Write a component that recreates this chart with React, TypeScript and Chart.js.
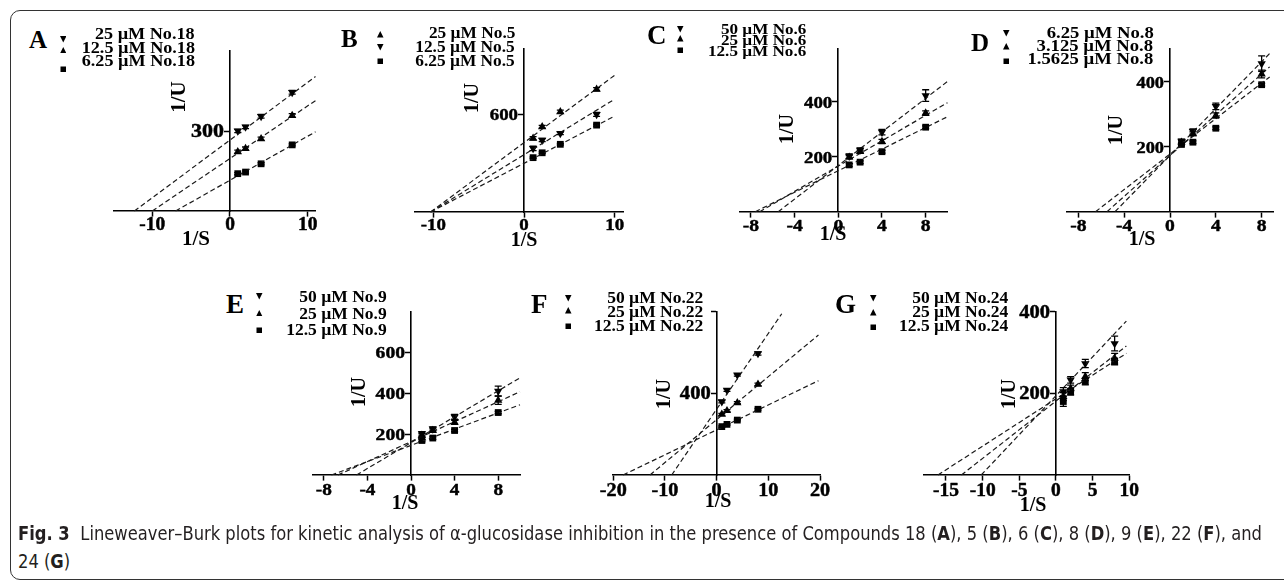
import React, { useEffect, useLayoutEffect, useRef, useState } from 'react';
import { Chart, registerables } from 'chart.js';

Chart.register(...registerables);

// ---------- data ----------
const S_VALUES = [1, 2, 4, 8]; // 1/S

// Panel A – compound 18
const A_LEGEND = ['25 µM No.18', '12.5 µM No.18', '6.25 µM No.18'];
const A_HIGH = [300, 315, 355, 445];
const A_MID = [222, 234, 271, 358];
const A_LOW = [140, 146, 177, 248];
const A_HIGH_ERR = [6, 6, 7, 7];
const A_MID_ERR = [6, 6, 6, 7];
const A_LOW_ERR = [4, 4, 4, 4];
const A_HIGH_FIT = [[-12.3, 0], [11, 504]];
const A_MID_FIT = [[-10, 0], [11, 414]];
const A_LOW_FIT = [[-7, 0], [11, 297]];
const A_X_RANGE = [-15, 11];
const A_Y_MAX = 600;
const A_X_TICKS = [-10, 0, 10];
const A_Y_TICKS = [300];
const A_Y_TICK_LABELS = ['300'];

// Panel B – compound 5
const B_LEGEND = ['25 µM No.5', '12.5 µM No.5', '6.25 µM No.5'];
const B_HIGH = [453, 524, 616, 754];
const B_MID = [391, 442, 483, 600];
const B_LOW = [334, 364, 416, 534];
const B_HIGH_ERR = [10, 8, 10, 10];
const B_MID_ERR = [14, 10, 8, 12];
const B_LOW_ERR = [5, 5, 5, 6];
const B_HIGH_FIT = [[-10.3, 0], [10, 841]];
const B_MID_FIT = [[-10.3, 0], [10, 694]];
const B_LOW_FIT = [[-10.3, 0], [10, 590]];
const B_X_RANGE = [-12, 11];
const B_Y_MAX = 1000;
const B_X_TICKS = [-10, 0, 10];
const B_Y_TICKS = [600];
const B_Y_TICK_LABELS = ['600'];

// Panel C – compound 6
const C_LEGEND = ['50 µM No.6', '25 µM No.6', '12.5 µM No.6'];
const C_HIGH = [202, 224, 289, 422];
const C_MID = [198, 218, 255, 358];
const C_LOW = [170, 180, 218, 307];
const C_HIGH_ERR = [8, 8, 10, 21];
const C_MID_ERR = [6, 6, 8, 8];
const C_LOW_ERR = [5, 5, 5, 5];
const C_HIGH_FIT = [[-5.5, 0], [10, 473]];
const C_MID_FIT = [[-7.2, 0], [10, 396]];
const C_LOW_FIT = [[-7.6, 0], [10, 345]];
const C_X_RANGE = [-9, 10];
const C_Y_MAX = 590;
const C_X_TICKS = [-8, -4, 0, 4, 8];
const C_Y_TICKS = [200, 400];
const C_Y_TICK_LABELS = ['200', '400'];

// Panel D – compound 8
const D_LEGEND = ['6.25 µM No.8', '3.125 µM No.8', '1.5625 µM No.8'];
const D_HIGH = [217, 247, 324, 456];
const D_MID = [214, 240, 296, 424];
const D_LOW = [207, 214, 257, 391];
const D_HIGH_ERR = [6, 8, 10, 24];
const D_MID_ERR = [6, 6, 8, 12];
const D_LOW_ERR = [4, 4, 4, 4];
const D_HIGH_FIT = [[-4.8, 0], [8.7, 487]];
const D_MID_FIT = [[-5.5, 0], [8.7, 446]];
const D_LOW_FIT = [[-6.5, 0], [8.7, 415]];
const D_X_RANGE = [-9, 9];
const D_Y_MAX = 500;
const D_X_TICKS = [-8, -4, 0, 4, 8];
const D_Y_TICKS = [200, 400];
const D_Y_TICK_LABELS = ['200', '400'];

// Panel E – compound 9
const E_LEGEND = ['50 µM No.9', '25 µM No.9', '12.5 µM No.9'];
const E_HIGH = [202, 226, 285, 411];
const E_MID = [194, 218, 258, 366];
const E_LOW = [169, 181, 218, 306];
const E_HIGH_ERR = [10, 10, 12, 24];
const E_MID_ERR = [8, 8, 10, 20];
const E_LOW_ERR = [6, 6, 6, 6];
const E_HIGH_FIT = [[-5.0, 0], [10, 476]];
const E_MID_FIT = [[-6.7, 0], [10, 408]];
const E_LOW_FIT = [[-7.3, 0], [10, 344]];
const E_X_RANGE = [-9, 10];
const E_Y_MAX = 800;
const E_X_TICKS = [-8, -4, 0, 4, 8];
const E_Y_TICKS = [200, 400, 600];
const E_Y_TICK_LABELS = ['200', '400', '600'];

// Panel F – compound 22
const F_LEGEND = ['50 µM No.22', '25 µM No.22', '12.5 µM No.22'];
const F_HIGH = [359, 416, 490, 595];
const F_MID = [297, 315, 354, 444];
const F_LOW = [237, 248, 269, 322];
const F_HIGH_ERR = [6, 6, 6, 8];
const F_MID_ERR = [5, 5, 5, 6];
const F_LOW_ERR = [4, 4, 4, 4];
const F_HIGH_FIT = [[-8.7, 0], [12.6, 790]];
const F_MID_FIT = [[-12.9, 0], [19.7, 686]];
const F_LOW_FIT = [[-18.1, 0], [19.7, 462]];
const F_X_RANGE = [-20, 20];
const F_Y_MAX = 800;
const F_X_TICKS = [-20, -10, 0, 10, 20];
const F_Y_TICKS = [400, 800];
const F_Y_TICK_LABELS = ['400', ''];

// Panel G – compound 24
const G_LEGEND = ['50 µM No.24', '25 µM No.24', '12.5 µM No.24'];
const G_HIGH = [204, 233, 273, 322];
const G_MID = [192, 212, 241, 286];
const G_LOW = [180, 204, 229, 278];
const G_HIGH_ERR = [10, 8, 10, 18];
const G_MID_ERR = [10, 8, 10, 12];
const G_LOW_ERR = [12, 8, 8, 8];
const G_HIGH_FIT = [[-10.2, 0], [9.6, 377]];
const G_MID_FIT = [[-12.9, 0], [9.6, 316]];
const G_LOW_FIT = [[-16.1, 0], [9.6, 298]];
const G_X_RANGE = [-18, 10];
const G_Y_MAX = 400;
const G_X_TICKS = [-15, -10, -5, 0, 5, 10];
const G_Y_TICKS = [200, 400];
const G_Y_TICK_LABELS = ['200', '400'];

const X_TITLE = '1/S';
const Y_TITLE = '1/U';

// ---------- layout (positions only) ----------
type Kind = 'down' | 'up' | 'square';

const SERIF = "'Liberation Serif', 'Times New Roman', serif";

function mk(letter: string, legend: string[], kinds: Kind[], vals: number[][], errs: number[][], fits: number[][][],
  xRange: number[], yMax: number, xTicks: number[], yTicks: number[], yLabels: string[], lay: any) {
  return {
    letter, xRange, yMax, xTicks, yTicks, yLabels, lay,
    series: legend.map((label, i) => ({ label, kind: kinds[i], values: vals[i], errors: errs[i], fit: fits[i] })),
  };
}

const DUM: Kind[] = ['down', 'up', 'square'];
const UDM: Kind[] = ['up', 'down', 'square'];

const PANELS = [
  mk('A', A_LEGEND, DUM, [A_HIGH, A_MID, A_LOW], [A_HIGH_ERR, A_MID_ERR, A_LOW_ERR], [A_HIGH_FIT, A_MID_FIT, A_LOW_FIT],
    A_X_RANGE, A_Y_MAX, A_X_TICKS, A_Y_TICKS, A_Y_TICK_LABELS,
    { area: { l: 113.4, r: 315.5, t: 51, b: 211 }, tick: { fs: 18, xSx: 1.08, ySx: 1.22, xc: 12.5 },
      letter: { x: 29, base: 47.5, fs: 25 },
      legend: { right: 195, bases: [40.3, 54, 67.3], fs: 16.5, sx: 1.1, mx: 63, mys: [39.5, 50, 69.5] },
      yTitle: { x: 178, y: 97 }, xTitle: { x: 196, y: 238 }, titleFs: 21 }),
  mk('B', B_LEGEND, UDM, [B_HIGH, B_MID, B_LOW], [B_HIGH_ERR, B_MID_ERR, B_LOW_ERR], [B_HIGH_FIT, B_MID_FIT, B_LOW_FIT],
    B_X_RANGE, B_Y_MAX, B_X_TICKS, B_Y_TICKS, B_Y_TICK_LABELS,
    { area: { l: 415.2, r: 623.8, t: 49.3, b: 212 }, tick: { fs: 17.5, xSx: 1.08, ySx: 1.08, xc: 12.5 },
      letter: { x: 341, base: 47, fs: 25 },
      legend: { right: 515, bases: [39.3, 52.7, 66.7], fs: 16.5, sx: 1.05, mx: 380.7, mys: [34.3, 47.7, 61.7] },
      yTitle: { x: 471, y: 98 }, xTitle: { x: 524, y: 239 }, titleFs: 20 }),
  mk('C', C_LEGEND, DUM, [C_HIGH, C_MID, C_LOW], [C_HIGH_ERR, C_MID_ERR, C_LOW_ERR], [C_HIGH_FIT, C_MID_FIT, C_LOW_FIT],
    C_X_RANGE, C_Y_MAX, C_X_TICKS, C_Y_TICKS, C_Y_TICK_LABELS,
    { area: { l: 740, r: 947.5, t: 49.3, b: 211.7 }, tick: { fs: 17.5, xSx: 1.12, ySx: 1.08, xc: 13 },
      letter: { x: 647, base: 45, fs: 27 },
      legend: { right: 806.7, bases: [34, 45, 55.7], fs: 14.5, sx: 1.18, mx: 680.7, mys: [29.3, 38.3, 50] },
      yTitle: { x: 786, y: 129 }, xTitle: { x: 833, y: 233 }, titleFs: 20 }),
  mk('D', D_LEGEND, DUM, [D_HIGH, D_MID, D_LOW], [D_HIGH_ERR, D_MID_ERR, D_LOW_ERR], [D_HIGH_FIT, D_MID_FIT, D_LOW_FIT],
    D_X_RANGE, D_Y_MAX, D_X_TICKS, D_Y_TICKS, D_Y_TICK_LABELS,
    { area: { l: 1066.9, r: 1273.1, t: 49.3, b: 211.7 }, tick: { fs: 17.5, xSx: 1.12, ySx: 1.05, xc: 13 },
      letter: { x: 971, base: 51, fs: 25 },
      legend: { right: 1153.3, bases: [39, 51.5, 65], fs: 16.5, sx: 1.13, mx: 1006.7, mys: [33.5, 46.7, 61.7] },
      yTitle: { x: 1115, y: 130 }, xTitle: { x: 1142, y: 237.5 }, titleFs: 20 }),
  mk('E', E_LEGEND, DUM, [E_HIGH, E_MID, E_LOW], [E_HIGH_ERR, E_MID_ERR, E_LOW_ERR], [E_HIGH_FIT, E_MID_FIT, E_LOW_FIT],
    E_X_RANGE, E_Y_MAX, E_X_TICKS, E_Y_TICKS, E_Y_TICK_LABELS,
    { area: { l: 312.9, r: 520, t: 311.7, b: 475 }, tick: { fs: 17.5, xSx: 1.1, ySx: 1.12, xc: 14 },
      letter: { x: 226, base: 314, fs: 27 },
      legend: { right: 386.7, bases: [302.5, 320, 336], fs: 17.5, sx: 1.0, mx: 259.3, mys: [296.5, 313, 330] },
      yTitle: { x: 358, y: 392 }, xTitle: { x: 405, y: 502 }, titleFs: 20 }),
  mk('F', F_LEGEND, DUM, [F_HIGH, F_MID, F_LOW], [F_HIGH_ERR, F_MID_ERR, F_LOW_ERR], [F_HIGH_FIT, F_MID_FIT, F_LOW_FIT],
    F_X_RANGE, F_Y_MAX, F_X_TICKS, F_Y_TICKS, F_Y_TICK_LABELS,
    { area: { l: 613.3, r: 820, t: 311.7, b: 475 }, tick: { fs: 18, xSx: 1.12, ySx: 1.14, xc: 14.5 },
      letter: { x: 531, base: 314, fs: 27 },
      legend: { right: 703.3, bases: [303.3, 317.3, 331.7], fs: 17.5, sx: 1.0, mx: 568.3, mys: [298.3, 310.7, 326.7] },
      yTitle: { x: 663, y: 394 }, xTitle: { x: 718, y: 500 }, titleFs: 20 }),
  mk('G', G_LEGEND, DUM, [G_HIGH, G_MID, G_LOW], [G_HIGH_ERR, G_MID_ERR, G_LOW_ERR], [G_HIGH_FIT, G_MID_FIT, G_LOW_FIT],
    G_X_RANGE, G_Y_MAX, G_X_TICKS, G_Y_TICKS, G_Y_TICK_LABELS,
    { area: { l: 924, r: 1129.3, t: 311.7, b: 475 }, tick: { fs: 18, xSx: 1.08, ySx: 1.14, xc: 15 },
      letter: { x: 835, base: 314, fs: 27 },
      legend: { right: 1008.3, bases: [303.3, 317.7, 331.7], fs: 17.5, sx: 1.0, mx: 873.3, mys: [298.3, 312.7, 327.7] },
      yTitle: { x: 1008, y: 394 }, xTitle: { x: 1033, y: 504 }, titleFs: 20 }),
];

const errorBarPlugin = {
  id: 'errorBars',
  afterDatasetsDraw(chart: any) {
    const ctx = chart.ctx;
    const ys = chart.scales.y;
    chart.data.datasets.forEach((ds: any, i: number) => {
      const errs = ds.errorBars;
      if (!errs) return;
      const meta = chart.getDatasetMeta(i);
      ctx.save();
      ctx.strokeStyle = '#000';
      ctx.lineWidth = 1.3;
      meta.data.forEach((pt: any, j: number) => {
        const e = errs[j];
        if (!e) return;
        const v = ds.data[j].y;
        const yTop = ys.getPixelForValue(v + e);
        const yBot = ys.getPixelForValue(v - e);
        const x = pt.x;
        ctx.beginPath();
        ctx.moveTo(x, yTop); ctx.lineTo(x, yBot);
        ctx.moveTo(x - 3.5, yTop); ctx.lineTo(x + 3.5, yTop);
        ctx.moveTo(x - 3.5, yBot); ctx.lineTo(x + 3.5, yBot);
        ctx.stroke();
      });
      ctx.restore();
    });
  },
};

// Tick labels placed at the scales' own tick positions, drawn with the horizontal stretch of the original.
const tickLabelPlugin = {
  id: 'stretchedTickLabels',
  afterDraw(chart: any, _args: any, opts: any) {
    const ctx = chart.ctx;
    const xs = chart.scales.x;
    const ys = chart.scales.y;
    const axisX = xs.getPixelForValue(0);
    const axisY = ys.getPixelForValue(0);
    const fs = opts.fs;
    ctx.save();
    ctx.fillStyle = '#000';
    ctx.strokeStyle = '#000';
    ctx.lineWidth = 0.45;
    ctx.lineJoin = 'round';
    ctx.font = `bold ${fs}px ${SERIF}`;
    ctx.textBaseline = 'alphabetic';
    const put = (text: string, x: number, y: number, sx: number, align: CanvasTextAlign) => {
      ctx.save();
      ctx.translate(x, y);
      ctx.scale(sx, 1);
      ctx.textAlign = align;
      ctx.fillText(text, 0, 0);
      ctx.strokeText(text, 0, 0);
      ctx.restore();
    };
    xs.ticks.forEach((t: any) => {
      put(String(t.value), xs.getPixelForValue(t.value), axisY + opts.xc + 0.34 * fs, opts.xSx, 'center');
    });
    ys.ticks.forEach((t: any) => {
      const i = opts.yTicks.indexOf(t.value);
      const label = i >= 0 ? opts.yLabels[i] : '';
      if (!label) return;
      put(label, axisX - 6, ys.getPixelForValue(t.value) + 0.34 * fs, opts.ySx, 'right');
    });
    ctx.restore();
  },
};

function PanelChart({ p }: { p: any }) {
  const ref = useRef<HTMLCanvasElement>(null);
  const { area } = p.lay;
  const cl = Math.floor(area.l) - 40;
  const ct = Math.floor(area.t) - 30;
  const cw = Math.ceil(area.r) + 40 - cl;
  const ch = Math.ceil(area.b) + 50 - ct;

  useEffect(() => {
    if (!ref.current) return;
    const pad = { left: area.l - cl, top: area.t - ct, right: cl + cw - area.r, bottom: ct + ch - area.b };
    const datasets: any[] = [];
    p.series.forEach((s: any) => {
      datasets.push({
        data: s.fit.map((q: number[]) => ({ x: q[0], y: q[1] })),
        showLine: true,
        borderColor: '#1a1a1a',
        borderWidth: 1.2,
        borderDash: [5, 3],
        pointRadius: 0,
        fill: false,
        clip: false,
      });
    });
    p.series.forEach((s: any) => {
      datasets.push({
        data: S_VALUES.map((x, i) => ({ x, y: s.values[i] })),
        showLine: false,
        pointStyle: s.kind === 'square' ? 'rect' : 'triangle',
        pointRotation: s.kind === 'down' ? 180 : 0,
        pointRadius: 4.8,
        pointBackgroundColor: '#000',
        pointBorderColor: '#000',
        pointBorderWidth: 0,
        backgroundColor: '#000',
        borderColor: '#000',
        errorBars: s.errors,
        clip: false,
      });
    });
    const gridOpts = { drawOnChartArea: false, drawTicks: true, tickLength: 5, tickWidth: 1.5, tickColor: '#000' };
    const chart = new Chart(ref.current, {
      type: 'scatter',
      data: { datasets },
      plugins: [errorBarPlugin, tickLabelPlugin],
      options: {
        responsive: false,
        animation: false,
        devicePixelRatio: 1,
        layout: { padding: pad },
        plugins: {
          legend: { display: false },
          tooltip: { enabled: false },
          stretchedTickLabels: { ...p.lay.tick, yTicks: p.yTicks, yLabels: p.yLabels },
        },
        events: [],
        scales: {
          x: {
            type: 'linear',
            min: p.xRange[0],
            max: p.xRange[1],
            position: { y: 0 } as any,
            afterBuildTicks: (sc: any) => { sc.ticks = p.xTicks.map((v: number) => ({ value: v })); },
            ticks: { display: false, autoSkip: false },
            grid: gridOpts,
            border: { display: true, color: '#000', width: 1.6 },
          },
          y: {
            type: 'linear',
            min: 0,
            max: p.yMax,
            position: { x: 0 } as any,
            afterBuildTicks: (sc: any) => { sc.ticks = p.yTicks.map((v: number) => ({ value: v })); },
            ticks: { display: false, autoSkip: false },
            grid: gridOpts,
            border: { display: true, color: '#000', width: 1.6 },
          },
        },
      } as any,
    });
    return () => chart.destroy();
  }, []);

  return <canvas ref={ref} width={cw} height={ch} style={{ position: 'absolute', left: cl, top: ct }} />;
}

function Marker({ kind, x, y, size }: { kind: Kind; x: number; y: number; size: number }) {
  let shape;
  if (kind === 'square') shape = <rect x={0.5} y={0.5} width={size - 1} height={size - 1} fill="#000" />;
  else if (kind === 'up') shape = <polygon points={`${size / 2},0 ${size},${size} 0,${size}`} fill="#000" />;
  else shape = <polygon points={`0,0 ${size},0 ${size / 2},${size}`} fill="#000" />;
  return (
    <svg width={size} height={size} style={{ position: 'absolute', left: x - size / 2, top: y - size / 2 }}>
      {shape}
    </svg>
  );
}

function PanelText({ p }: { p: any }) {
  const L = p.lay;
  const lg = L.legend;
  const base: React.CSSProperties = {
    position: 'absolute', fontFamily: SERIF, fontWeight: 'bold', lineHeight: 1, whiteSpace: 'nowrap', color: '#000',
  };
  return (
    <>
      <div style={{ ...base, left: L.letter.x, top: L.letter.base - 0.8375 * L.letter.fs, fontSize: L.letter.fs }}>
        {p.letter}
      </div>
      {p.series.map((s: any, i: number) => (
        <React.Fragment key={i}>
          <div style={{ ...base, right: 1284 - lg.right, top: lg.bases[i] - 0.8375 * lg.fs, fontSize: lg.fs,
            transform: `scaleX(${lg.sx})`, transformOrigin: 'right center' }}>
            {s.label}
          </div>
          <Marker kind={s.kind} x={lg.mx} y={lg.mys[i]} size={6.5} />
        </React.Fragment>
      ))}
      <div style={{ ...base, left: L.yTitle.x, top: L.yTitle.y, fontSize: L.titleFs,
        transform: 'translate(-50%, -50%) rotate(-90deg)' }}>{Y_TITLE}</div>
      <div style={{ ...base, left: L.xTitle.x, top: L.xTitle.y, fontSize: L.titleFs,
        transform: 'translate(-50%, -50%)' }}>{X_TITLE}</div>
    </>
  );
}

const CAPTION_WIDTH = 1244;

function Caption() {
  const ref = useRef<HTMLSpanElement>(null);
  const [sx, setSx] = useState(1);
  useLayoutEffect(() => {
    if (ref.current) {
      const w = ref.current.getBoundingClientRect().width;
      if (w > 0) setSx(CAPTION_WIDTH / w);
    }
  }, []);
  const st: React.CSSProperties = {
    position: 'absolute', left: 18, whiteSpace: 'nowrap', color: '#231f20',
    fontFamily: "'Liberation Sans Narrow', 'DejaVu Sans Condensed', 'Liberation Sans', sans-serif",
    fontSize: 19, lineHeight: '20px', transform: `scaleX(${sx})`, transformOrigin: 'left center',
  };
  const b = (t: string) => <b>{t}</b>;
  return (
    <>
      <span ref={ref} style={{ ...st, top: 523 }}>
        <b>Fig. 3</b>
        <span style={{ display: 'inline-block', width: 11 }} />
        Lineweaver–Burk plots for kinetic analysis of α-glucosidase inhibition in the presence of Compounds 18 (
        {b('A')}), 5 ({b('B')}), 6 ({b('C')}), 8 ({b('D')}), 9 ({b('E')}), 22 ({b('F')}), and
      </span>
      <span style={{ ...st, top: 551 }}>
        24 ({b('G')})
      </span>
    </>
  );
}

export default function App() {
  return (
    <div style={{ position: 'fixed', left: 0, top: 0, width: 1284, height: 580, overflow: 'hidden', background: '#fff' }}>
      <div style={{ position: 'absolute', left: 10, top: 10, width: 1400, height: 570, border: '1px solid #333',
        borderRadius: 10, boxSizing: 'border-box' }} />
      {PANELS.map((p) => <PanelChart key={p.letter} p={p} />)}
      {PANELS.map((p) => <PanelText key={'t' + p.letter} p={p} />)}
      <Caption />
    </div>
  );
}
